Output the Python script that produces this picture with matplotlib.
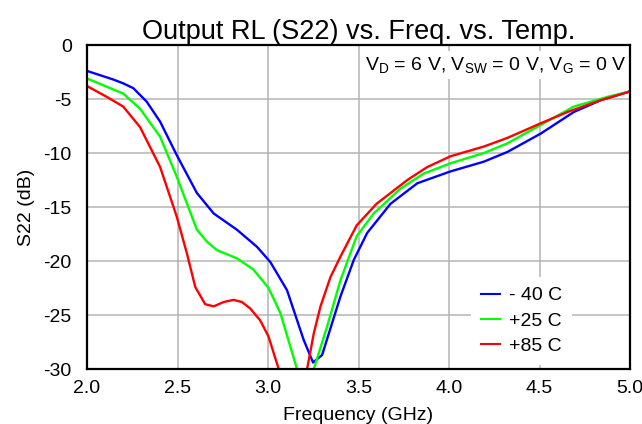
import matplotlib
matplotlib.use("Agg")
import matplotlib.pyplot as plt

plt.rcParams['font.family'] = ['Liberation Sans', 'DejaVu Sans']
plt.rcParams['mathtext.fontset'] = 'custom'
plt.rcParams['mathtext.rm'] = 'Liberation Sans'
plt.rcParams['mathtext.it'] = 'Liberation Sans'
plt.rcParams['axes.unicode_minus'] = False

# Data (frequency in GHz, S22 in dB)
freq_m40 = [2.0, 2.146, 2.20, 2.256, 2.33, 2.404, 2.496, 2.607, 2.70, 2.828, 2.94, 3.013,
            3.105, 3.197, 3.249, 3.299, 3.40, 3.474, 3.548, 3.677, 3.825, 4.009, 4.193,
            4.323, 4.507, 4.69, 4.84, 5.0]
s22_m40 = [-2.4, -3.2, -3.55, -4.0, -5.25, -7.1, -10.2, -13.7, -15.6, -17.1, -18.7, -20.1,
           -22.7, -27.3, -29.4, -28.7, -23.3, -19.9, -17.4, -14.7, -12.8, -11.7, -10.8,
           -9.9, -8.2, -6.2, -5.1, -4.3]

freq_p25 = [2.0, 2.20, 2.293, 2.404, 2.496, 2.607, 2.662, 2.718, 2.828, 2.92, 3.003, 3.068,
            3.16, 3.205, 3.253, 3.326, 3.40, 3.49, 3.584, 3.732, 3.861, 4.009, 4.193,
            4.323, 4.507, 4.69, 4.876, 5.0]
s22_p25 = [-3.1, -4.5, -5.9, -8.5, -12.2, -17.1, -18.2, -19.0, -19.75, -20.8, -22.5, -24.8,
           -30.0, -31.5, -30.0, -26.1, -21.8, -17.7, -15.6, -13.3, -11.9, -10.95, -10.0,
           -9.1, -7.4, -5.7, -4.8, -4.3]

freq_p85 = [2.0, 2.109, 2.20, 2.293, 2.404, 2.496, 2.552, 2.598, 2.653, 2.70, 2.755, 2.81,
            2.856, 2.902, 2.957, 3.003, 3.059, 3.14, 3.216, 3.253, 3.29, 3.345, 3.40,
            3.49, 3.60, 3.77, 3.88, 4.009, 4.193, 4.323, 4.507, 4.655, 4.84, 5.0]
s22_p85 = [-3.8, -4.8, -5.7, -7.6, -11.3, -15.9, -19.3, -22.4, -24.0, -24.2, -23.8, -23.6,
           -23.8, -24.4, -25.5, -27.0, -30.0, -36.0, -30.0, -26.7, -24.2, -21.5, -19.6,
           -16.7, -14.7, -12.5, -11.3, -10.3, -9.4, -8.6, -7.25, -6.2, -5.1, -4.3]

labels = ['- 40 C', '+25 C', '+85 C']
colors = ['#0000ff', '#00ff00', '#ff0000']
xticks = [2.0, 2.5, 3.0, 3.5, 4.0, 4.5, 5.0]
yticks = [0, -5, -10, -15, -20, -25, -30]

W, H = 642, 424
fig = plt.figure(figsize=(W / 100, H / 100), dpi=100)
L, R, T, B = 87, 630, 45, 369
ax = fig.add_axes([L / W, (H - B) / H, (R - L) / W, (B - T) / H])

for f, s, lab, c in zip([freq_m40, freq_p25, freq_p85], [s22_m40, s22_p25, s22_p85], labels, colors):
    ax.plot(f, s, color=c, lw=1.7, label=lab, zorder=3)

ax.set_xlim(2.0, 5.0)
ax.set_ylim(-30, 0)
ax.set_xticks(xticks)
ax.set_xticklabels([f"{x:.1f}" for x in xticks])
ax.set_yticks(yticks)
ax.set_yticklabels([str(y) for y in yticks])
ax.grid(True, color='#b4b4b4', lw=1.1, zorder=1)
ax.tick_params(length=0, labelsize=14)
ax.tick_params(axis='x', pad=8)
ax.tick_params(axis='y', pad=11)
for sp in ax.spines.values():
    sp.set_linewidth(1.6)
    sp.set_color('black')
    sp.set_zorder(5)

ax.set_title('Output RL (S22) vs. Freq. vs. Temp.', fontsize=19.5, pad=1)
ax.set_xlabel('Frequency (GHz)', fontsize=14, labelpad=7)
ax.set_ylabel('S22 (dB)', fontsize=14, labelpad=6)

ax.text(0.993, 0.97,
        r'V$_\mathrm{D}$ = 6 V, V$_\mathrm{SW}$ = 0 V, V$_\mathrm{G}$ = 0 V',
        transform=ax.transAxes, ha='right', va='top', fontsize=14,
        bbox=dict(facecolor='white', edgecolor='none', pad=3), zorder=4)

leg = ax.legend(loc='lower right', bbox_to_anchor=((572 - L) / (R - L), 4 / (B - T)),
                fontsize=14, frameon=True, framealpha=1,
                edgecolor='none', fancybox=False, handlelength=1.0,
                borderaxespad=0, borderpad=0.5, labelspacing=0.4, handletextpad=0.45)
for line in leg.get_lines():
    line.set_linewidth(1.5)
leg.set_zorder(4)

fig.savefig('out.png', dpi=100)
